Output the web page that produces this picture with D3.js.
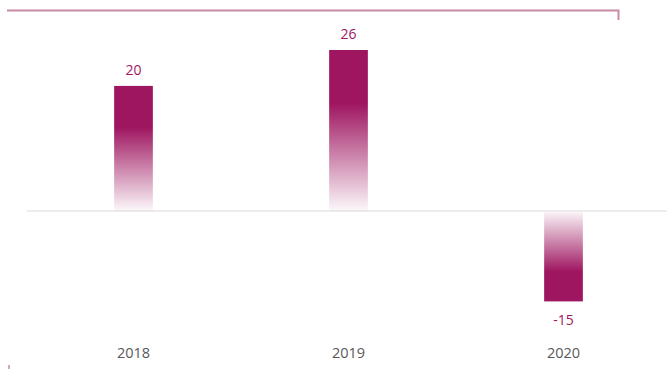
<!DOCTYPE html>
<html><head><meta charset="utf-8">
<script src="https://cdn.jsdelivr.net/npm/d3@7"></script>
<style>body{margin:0;background:#fff}svg{display:block}</style>
</head><body>
<script>
const categories = ["2018", "2019", "2020"];
const values = [20.2, 26, -14.6];
const labels = ["20", "26", "-15"];

const W = 667, H = 369;
const svg = d3.select("body").append("svg").attr("width", W).attr("height", H);
const x = d3.scaleBand().domain(categories).range([26, 671]).padding(0);
const y = d3.scaleLinear().domain([-14.6, 26]).range([301.4, 50]);
const barW = x.bandwidth() * 0.18;
const dark = "#9e1560";

const defs = svg.append("defs");
const gUp = defs.append("linearGradient").attr("id", "gUp").attr("x1", 0).attr("y1", 0).attr("x2", 0).attr("y2", 1);
gUp.append("stop").attr("offset", "0%").attr("stop-color", dark);
gUp.append("stop").attr("offset", "33%").attr("stop-color", dark);
gUp.append("stop").attr("offset", "100%").attr("stop-color", dark).attr("stop-opacity", 0.03);
const gDn = defs.append("linearGradient").attr("id", "gDn").attr("x1", 0).attr("y1", 1).attr("x2", 0).attr("y2", 0);
gDn.append("stop").attr("offset", "0%").attr("stop-color", dark);
gDn.append("stop").attr("offset", "33%").attr("stop-color", dark);
gDn.append("stop").attr("offset", "100%").attr("stop-color", dark).attr("stop-opacity", 0.05);

// top frame line
svg.append("path").attr("d", "M7,10.5 H618.5 V20").attr("fill", "none").attr("stroke", "#c98aa8").attr("stroke-width", 2);
// small mark bottom-left
svg.append("rect").attr("x", 8).attr("y", 365).attr("width", 2).attr("height", 4).attr("fill", "#d7a3bb");

// baseline
svg.append("line").attr("x1", 27).attr("x2", 667).attr("y1", y(0)).attr("y2", y(0)).attr("stroke", "#d9d9d9").attr("stroke-width", 1.2);

const data = categories.map((c, i) => ({c, v: values[i], l: labels[i]}));
svg.selectAll("rect.bar").data(data).join("rect").attr("class", "bar")
  .attr("x", d => x(d.c) + x.bandwidth() / 2 - barW / 2)
  .attr("width", barW)
  .attr("y", d => d.v >= 0 ? y(d.v) : y(0) + 1)
  .attr("height", d => Math.abs(y(d.v) - y(0)) - (d.v < 0 ? 1 : 0))
  .attr("fill", d => d.v >= 0 ? "url(#gUp)" : "url(#gDn)");

svg.selectAll("text.val").data(data).join("text").attr("class", "val")
  .attr("x", d => x(d.c) + x.bandwidth() / 2)
  .attr("y", d => d.v >= 0 ? y(d.v) - 11 : y(d.v) + 24)
  .attr("text-anchor", "middle")
  .attr("font-family", "Open Sans, sans-serif").attr("font-size", 14)
  .attr("fill", "#a0175f")
  .text(d => d.l);

svg.selectAll("text.cat").data(categories).join("text").attr("class", "cat")
  .attr("x", d => x(d) + x.bandwidth() / 2)
  .attr("y", 358)
  .attr("text-anchor", "middle")
  .attr("font-family", "Open Sans, sans-serif").attr("font-size", 14.5)
  .attr("fill", "#595959")
  .text(d => d);
</script>
</body></html>
